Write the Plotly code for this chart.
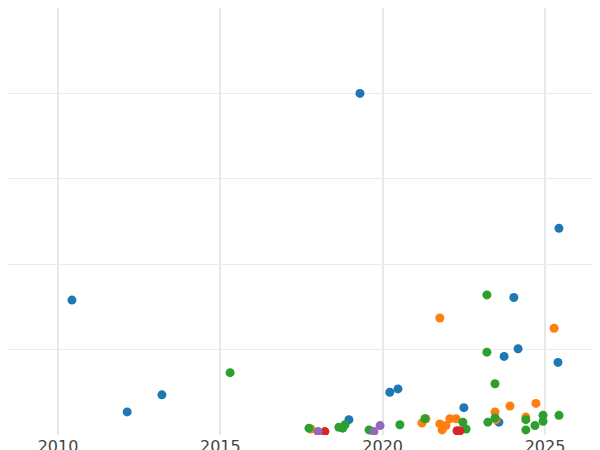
import plotly.graph_objects as go

blue_x = [2010.43, 2012.13, 2013.20, 2018.96, 2019.30, 2020.22, 2020.47, 2022.50, 2023.58, 2023.74, 2024.04, 2024.17, 2025.40, 2025.43]
blue_y = [1.58, 0.27, 0.47, 0.18, 4.0, 0.50, 0.54, 0.32, 0.15, 0.92, 1.61, 1.01, 0.85, 2.42]
orange_x = [2017.79, 2021.21, 2021.33, 2021.76, 2021.76, 2021.83, 2021.95, 2022.07, 2022.26, 2023.46, 2023.49, 2023.92, 2024.41, 2024.72, 2025.28]
orange_y = [0.07, 0.14, 0.19, 1.37, 0.13, 0.06, 0.11, 0.19, 0.19, 0.27, 0.18, 0.34, 0.21, 0.37, 1.25]
green_x = [2015.30, 2017.73, 2018.65, 2018.77, 2018.84, 2019.58, 2020.53, 2021.30, 2022.47, 2022.57, 2023.21, 2023.21, 2023.24, 2023.46, 2023.46, 2024.41, 2024.41, 2024.69, 2024.94, 2024.94, 2025.43]
green_y = [0.73, 0.08, 0.09, 0.08, 0.12, 0.06, 0.12, 0.19, 0.15, 0.07, 1.64, 0.97, 0.15, 0.60, 0.20, 0.06, 0.18, 0.11, 0.23, 0.16, 0.23]
red_x = [2018.22, 2022.29, 2022.38]
red_y = [0.04, 0.05, 0.05]
purple_x = [2018.01, 2019.73, 2019.92]
purple_y = [0.04, 0.04, 0.11]

series = [(blue_x, blue_y, "#1f77b4"), (orange_x, orange_y, "#ff7f0e"),
          (green_x, green_y, "#2ca02c"), (red_x, red_y, "#d62728"),
          (purple_x, purple_y, "#9467bd")]

fig = go.Figure()
for xs, ys, c in series:
    fig.add_trace(go.Scatter(x=xs, y=ys, mode="markers",
                             marker=dict(color=c, size=9), showlegend=False))

fig.update_layout(
    width=600, height=450, margin=dict(l=0, r=0, t=0, b=23, autoexpand=False),
    plot_bgcolor="white", paper_bgcolor="white",
    xaxis=dict(range=[2008.46, 2026.94], tickvals=[2010, 2015, 2020, 2025],
               showgrid=True, gridcolor="#e8e8e8", gridwidth=1.5, zeroline=False,
               automargin=False,
               tickfont=dict(size=16, color="#444", family="DejaVu Sans")),
    yaxis=dict(range=[0, 5], dtick=1, showticklabels=False, showgrid=True,
               gridcolor="#ebebeb", zeroline=False, automargin=False),
)
fig.write_html("out.html")
